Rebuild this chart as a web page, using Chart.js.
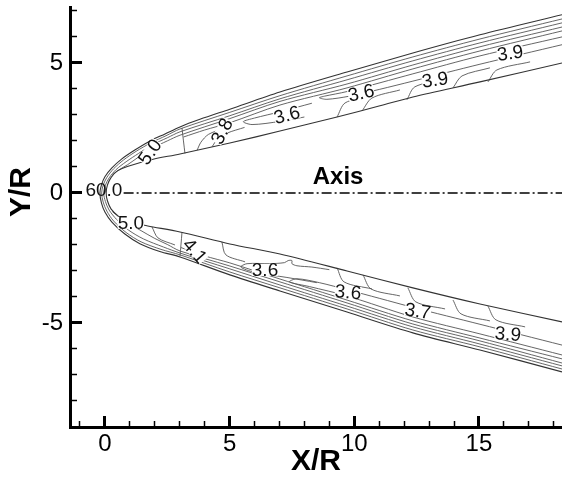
<!DOCTYPE html>
<html>
<head>
<meta charset="utf-8">
<script src="https://cdn.jsdelivr.net/npm/chart.js@4.4.1/dist/chart.umd.min.js"></script>
<style>
  html, body { margin: 0; padding: 0; background: #fff; }
</style>
</head>
<body>
<canvas id="chart" width="562" height="477"></canvas>
<script>
// axis ticks
const xMajorTicks = [0, 5, 10, 15];
const xMinorTicks = [-1, 0, 1, 2, 3, 4, 5, 6, 7, 8, 9, 10, 11, 12, 13, 14, 15, 16, 17, 18];
const yMajorTicks = [-5, 0, 5];
const yMinorTicks = [-8, -7, -6, -5, -4, -3, -2, -1, 0, 1, 2, 3, 4, 5, 6, 7];

// contour lines as [X/R, Y/R]
const shock = [[18.33,6.85],[15.04,6.08],[12.35,5.38],[9.71,4.65],[7.02,3.88],[5.01,3.22],[3.81,2.83],[3.01,2.54],[2.41,2.27],[1.81,2.0],[1.2,1.65],[0.68,1.31],[0.28,0.96],[0.0,0.62],[-0.14,0.3],[-0.2,0],[-0.14,-0.38],[0.0,-0.73],[0.28,-1.12],[0.8,-1.58],[1.4,-1.95],[2.2,-2.25],[3.01,-2.46],[5.01,-3.15],[7.02,-3.77],[9.71,-4.58],[12.35,-5.38],[15.04,-6.04],[18.33,-6.88]];
const body = [[18.33,5.0],[15.04,4.27],[12.35,3.69],[11.03,3.35],[9.31,2.92],[7.02,2.38],[5.01,1.92],[3.01,1.5],[1.81,1.27],[0.9,1.02],[0.5,0.85],[0.25,0.6],[0.1,0.3],[0.05,0],[0.1,-0.3],[0.25,-0.62],[0.55,-0.9],[0.9,-1.1],[1.72,-1.27],[3.01,-1.5],[5.01,-1.96],[7.02,-2.35],[9.71,-3.0],[12.35,-3.65],[15.04,-4.27],[18.33,-4.96]];
const lineA = [[18.33,6.69],[15.04,5.92],[12.35,5.23],[9.71,4.5],[7.02,3.74],[5.01,3.1],[3.01,2.46],[2.45,2.2],[1.85,1.93],[1.25,1.6],[0.75,1.27],[0.35,0.93],[0.08,0.6],[-0.07,0.3],[-0.13,0],[-0.07,-0.35],[0.08,-0.7],[0.35,-1.08],[0.85,-1.52],[1.45,-1.88],[2.25,-2.17],[3.01,-2.38],[5.01,-3.04],[7.02,-3.65],[9.71,-4.46],[12.35,-5.27],[15.04,-5.92],[18.33,-6.77]];
const lineB = [[18.33,6.54],[15.04,5.77],[12.35,5.08],[9.71,4.35],[7.02,3.62],[5.01,2.97],[3.01,2.35],[2.5,2.12],[1.9,1.85],[1.35,1.52],[0.85,1.2],[0.45,0.9],[0.17,0.58],[0.02,0.3],[-0.05,0],[0.02,-0.33],[0.17,-0.66],[0.47,-1.02],[0.95,-1.43],[1.55,-1.77],[2.35,-2.08],[3.01,-2.31],[5.01,-2.92],[7.02,-3.54],[9.71,-4.35],[12.35,-5.15],[15.04,-5.81],[18.33,-6.65]];
const lineCup = [[18.33,6.38],[15.04,5.62],[12.35,4.92],[9.71,4.19],[7.02,3.52],[5.01,2.86],[3.01,2.22],[2.5,2.0],[1.9,1.72],[1.35,1.38],[0.9,1.08],[0.55,0.88],[0.3,0.7]];
const lineClow = [[0.3,-0.72],[0.6,-0.95],[1.0,-1.2],[1.45,-1.45],[2.0,-1.75],[2.5,-1.98],[3.01,-2.23],[5.01,-2.81],[7.02,-3.42],[9.71,-4.23],[12.35,-5.04],[15.04,-5.69],[18.33,-6.54]];
const lineDup = [[3.15,2.15],[4.0,2.42],[5.01,2.7],[7.02,3.38],[9.71,4.04],[12.35,4.77],[15.04,5.46],[18.33,6.23]];
const lineDlow = [[3.05,-2.1],[4.0,-2.42],[5.01,-2.69],[7.02,-3.31],[9.71,-4.12],[12.35,-4.92],[15.04,-5.58],[18.33,-6.38]];
const lineEup = [[18.33,6.0],[15.04,5.27],[12.35,4.58],[9.71,3.9],[8.8,3.72],[8.6,3.66],[8.9,3.6],[9.8,3.72],[11.0,3.98],[12.35,4.3],[15.04,4.95],[18.33,5.7]];
const lineElow = [[18.33,-6.23],[15.04,-5.42],[12.35,-4.77],[9.71,-3.96],[8.2,-3.6],[7.4,-3.42],[7.7,-3.3],[8.6,-3.45],[9.71,-3.72],[11.0,-4.05],[12.35,-4.4],[15.04,-5.05],[18.33,-5.85]];
const tongueUp = [[8.3,3.45],[7.02,3.12],[6.0,2.88],[5.55,2.74],[5.9,2.63],[7.02,2.75],[8.0,2.92]];
const tongueLow = [[8.5,-3.45],[7.3,-3.25],[6.0,-3.05],[5.45,-2.85],[5.7,-2.72],[6.6,-2.72],[7.2,-2.68],[7.35,-2.6],[7.5,-2.6],[7.5,-2.72],[7.7,-2.8],[8.3,-2.85],[9.0,-2.95]];
const crossUp = [[3.09,2.5],[3.15,2.0],[3.21,1.52]];
const crossLow = [[3.09,-1.52],[3.05,-2.0],[3.01,-2.44]];
const arcsUp = [
  [[3.7,1.65],[3.85,1.95],[4.15,2.25],[4.8,2.5]],
  [[4.3,1.78],[4.5,2.05],[4.9,2.3],[5.6,2.52]],
  [[9.31,2.92],[9.63,3.46],[10.63,3.73]],
  [[10.31,3.15],[10.71,3.65],[11.83,3.96]],
  [[12.11,3.58],[12.43,4.08],[13.64,4.38]],
  [[13.96,4.04],[14.32,4.5],[15.44,4.81]],
  [[15.36,4.27],[15.72,4.73],[17.05,5.04]]
];
const arcsLow = [
  [[1.89,-1.31],[2.13,-1.73],[2.81,-2.0]],
  [[4.69,-1.88],[4.85,-2.38],[5.62,-2.65]],
  [[9.31,-2.88],[9.59,-3.42],[10.71,-3.69]],
  [[10.35,-3.15],[10.67,-3.69],[11.83,-3.96]],
  [[12.15,-3.65],[12.47,-4.19],[13.64,-4.46]],
  [[13.96,-4.12],[14.28,-4.65],[15.44,-4.92]],
  [[15.36,-4.35],[15.68,-4.88],[16.85,-5.15]]
];
const symmetryAxis = [[0.75,0],[18.33,0]];

// contour labels
const labelText  = ['60.0', '5.0', '3.8', '3.6', '3.6', '3.9', '3.9', '5.0', '4.1', '3.6', '3.6', '3.7', '3.9'];
const labelX     = [-0.04, 1.8, 4.69, 7.3, 10.27, 13.24, 16.25, 1.04, 3.61, 6.42, 9.75, 12.55, 16.16];
const labelY     = [0.12, 1.58, 2.38, 3.0, 3.85, 4.35, 5.38, -1.15, -2.23, -2.96, -3.81, -4.54, -5.42];
const labelAngle = [0, -55, -62, -15, -12, -8, -8, 0, 48, 0, 5, 8, 5];

const FONT = '"Liberation Sans", Arial, sans-serif';

function toPts(arr) { return arr.map(p => ({ x: p[0], y: p[1] })); }

const thin = [lineA, lineB, lineCup, lineClow, lineDup, lineDlow, lineEup, lineElow,
  tongueUp, tongueLow, crossUp, crossLow, ...arcsUp, ...arcsLow];

const datasets = [
  { data: toPts(shock), borderColor: '#333', borderWidth: 1.1 },
  { data: toPts(body), borderColor: '#333', borderWidth: 1.1 },
  ...thin.map(l => ({ data: toPts(l), borderColor: '#555', borderWidth: 0.9 })),
  { data: toPts(symmetryAxis), borderColor: '#000', borderWidth: 1.5, borderDash: [10, 3, 2, 3], tension: 0 }
].map(d => Object.assign({ showLine: true, pointRadius: 0, tension: 0.3, fill: false }, d));

const textPlugin = {
  id: 'textPlugin',
  afterDatasetsDraw(chart) {
    const { ctx, scales: { x, y } } = chart;
    ctx.save();
    ctx.textAlign = 'center';
    ctx.textBaseline = 'middle';
    ctx.font = '19px ' + FONT;
    labelText.forEach((t, i) => {
      ctx.save();
      ctx.translate(x.getPixelForValue(labelX[i]), y.getPixelForValue(labelY[i]));
      ctx.rotate(labelAngle[i] * Math.PI / 180);
      if (i > 0) {
        const w = ctx.measureText(t).width;
        ctx.fillStyle = '#fff';
        ctx.fillRect(-w / 2, -6, w, 12);
      }
      ctx.fillStyle = '#111';
      ctx.fillText(t, 0, 1);
      ctx.restore();
    });
    ctx.font = 'bold 24px ' + FONT;
    ctx.fillStyle = '#000';
    ctx.fillText('Axis', x.getPixelForValue(9.35), y.getPixelForValue(0.58));
    // y axis title
    ctx.translate(22, 192);
    ctx.rotate(-Math.PI / 2);
    ctx.font = 'bold 30px ' + FONT;
    ctx.fillText('Y/R', 0, 0);
    ctx.restore();
  }
};

const tickFont = { family: FONT, size: 24 };

new Chart(document.getElementById('chart'), {
  type: 'scatter',
  data: { datasets },
  options: {
    responsive: false,
    devicePixelRatio: 1,
    animation: false,
    layout: { padding: { top: 7, left: 0, right: 0, bottom: 0 } },
    plugins: { legend: { display: false }, tooltip: { enabled: false } },
    scales: {
      xm: {
        type: 'linear', position: 'bottom', weight: 0, min: -1.4, max: 18.33,
        afterBuildTicks: s => { s.ticks = xMinorTicks.map(v => ({ value: v })); },
        afterFit: s => { s.height = 0; s.paddingLeft = 0; s.paddingRight = 0; },
        ticks: { display: false },
        grid: { drawOnChartArea: false, tickLength: -6, tickWidth: 1.5, tickColor: '#000' },
        border: { display: false }
      },
      x: {
        type: 'linear', position: 'bottom', weight: 1, min: -1.4, max: 18.33,
        afterBuildTicks: s => { s.ticks = xMajorTicks.map(v => ({ value: v })); },
        afterFit: s => { s.height = 50; s.paddingLeft = 0; s.paddingRight = 0; },
        ticks: { color: '#000', font: tickFont, padding: 14, callback: v => String(v) },
        grid: { drawOnChartArea: false, tickLength: -11, tickWidth: 3, tickColor: '#000' },
        border: { display: true, width: 3, color: '#000' },
        title: { display: true, text: 'X/R', color: '#000', font: { family: FONT, size: 30, weight: 'bold', lineHeight: 1 }, padding: { top: 0, bottom: 0 } }
      },
      ym: {
        type: 'linear', position: 'left', weight: 0, min: -9, max: 7.15,
        afterBuildTicks: s => { s.ticks = yMinorTicks.map(v => ({ value: v })); },
        afterFit: s => { s.width = 0; s.paddingTop = 0; s.paddingBottom = 0; },
        ticks: { display: false },
        grid: { drawOnChartArea: false, tickLength: -7, tickWidth: 1.5, tickColor: '#000' },
        border: { display: false }
      },
      y: {
        type: 'linear', position: 'left', weight: 1, min: -9, max: 7.15,
        afterBuildTicks: s => { s.ticks = yMajorTicks.map(v => ({ value: v })); },
        afterFit: s => { s.width = 70; s.paddingTop = 0; s.paddingBottom = 0; },
        ticks: { color: '#000', font: tickFont, padding: 19, callback: v => String(v) },
        grid: { drawOnChartArea: false, tickLength: -12, tickWidth: 3, tickColor: '#000' },
        border: { display: true, width: 3, color: '#000' }
      }
    }
  },
  plugins: [textPlugin]
});
</script>
</body>
</html>
